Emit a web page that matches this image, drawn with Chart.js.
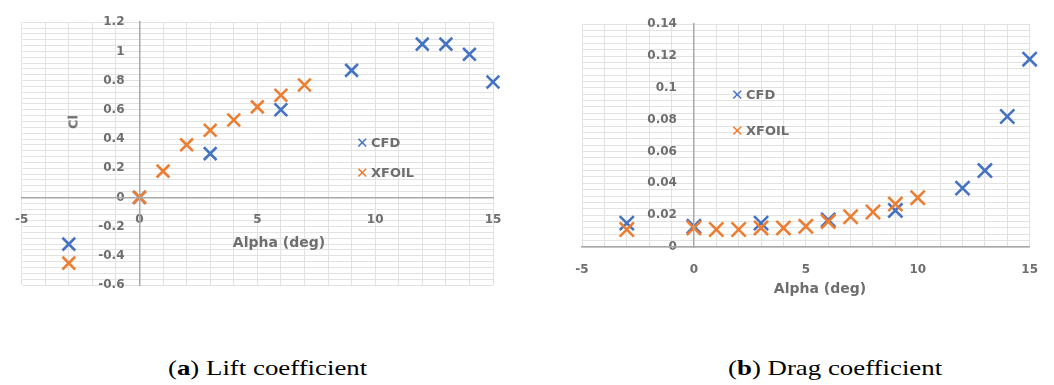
<!DOCTYPE html>
<html><head><meta charset="utf-8">
<script src="https://cdn.jsdelivr.net/npm/chart.js@4.4.1/dist/chart.umd.min.js"></script>
<style>
html,body{margin:0;padding:0;background:#fff;width:1054px;height:385px;overflow:hidden;position:relative;}
.pane{position:absolute;top:0;width:527px;height:320px;}
canvas{display:block;}
.t{position:absolute;font-family:"DejaVu Sans",sans-serif;font-weight:bold;color:#6e6e6e;white-space:nowrap;line-height:1;}
.c{transform:translate(-50%,-50%);}
.leg{position:absolute;font-family:"DejaVu Sans",sans-serif;font-weight:bold;font-size:13px;color:#6e6e6e;white-space:nowrap;line-height:1;transform:translateY(-50%);}
.leg b{display:inline-block;width:13px;margin-right:2px;font-size:15px;vertical-align:-1px;}
.cap{position:absolute;font-family:"Liberation Serif","Times New Roman",serif;font-size:22px;color:#000;white-space:nowrap;transform-origin:0 0;transform:scaleX(1.22);line-height:1;}
</style></head><body>
<div class="pane" style="left:0"><canvas id="lift" width="527" height="320"></canvas></div>
<div class="pane" style="left:527px"><canvas id="drag" width="527" height="320"></canvas></div>

<div class="t c" style="left:73px;top:122px;font-size:13px;transform:translate(-50%,-50%) rotate(-90deg);">Cl</div>
<div class="t c" style="left:279px;top:242px;font-size:14px;">Alpha (deg)</div>
<div class="t c" style="left:820px;top:288px;font-size:14px;">Alpha (deg)</div>

<div class="leg" style="left:356px;top:143px;"><b style="color:#4472C4">✕</b>CFD</div>
<div class="leg" style="left:356px;top:173px;"><b style="color:#ED7D31">✕</b>XFOIL</div>
<div class="leg" style="left:731px;top:95px;"><b style="color:#4472C4">✕</b>CFD</div>
<div class="leg" style="left:731px;top:131px;"><b style="color:#ED7D31">✕</b>XFOIL</div>

<div class="cap" style="left:168px;top:357px;">(<b>a</b>) Lift coefficient</div>
<div class="cap" style="left:728px;top:357px;">(<b>b</b>) Drag coefficient</div>

<script>
// ---- data ----
const seriesNames = ['CFD', 'XFOIL'];

// (a) lift coefficient
const alphaCfdCl   = [-3, 0, 3, 6, 9, 12, 13, 14, 15];
const clCfd        = [-0.32, 0.00, 0.30, 0.60, 0.87, 1.05, 1.05, 0.98, 0.79];
const alphaXfoilCl = [-3, 0, 1, 2, 3, 4, 5, 6, 7];
const clXfoil      = [-0.45, 0.00, 0.18, 0.36, 0.46, 0.53, 0.62, 0.70, 0.77];

// (b) drag coefficient
const alphaCfdCd   = [-3, 0, 3, 6, 9, 12, 13, 14, 15];
const cdCfd        = [0.015, 0.013, 0.015, 0.017, 0.023, 0.037, 0.048, 0.082, 0.118];
const alphaXfoilCd = [-3, 0, 1, 2, 3, 4, 5, 6, 7, 8, 9, 10];
const cdXfoil      = [0.011, 0.012, 0.011, 0.011, 0.012, 0.012, 0.013, 0.016, 0.019, 0.022, 0.027, 0.031];

// tick labels
const alphaTickLabels = ['-5', '0', '5', '10', '15'];
const clTickLabels = ['-0.6', '-0.4', '-0.2', '0', '0.2', '0.4', '0.6', '0.8', '1', '1.2'];
const cdTickLabels = ['0', '0.02', '0.04', '0.06', '0.08', '0.1', '0.12', '0.14'];

// ---- helpers ----
const BLUE = '#4472C4', ORANGE = '#ED7D31';
const pts = (xs, ys) => xs.map((x, i) => ({x: x, y: ys[i]}));
const labelFor = (labels) => (v) => {
  const hit = labels.find(l => Math.abs(parseFloat(l) - v) < 1e-9);
  return hit === undefined ? '' : hit;
};
const tickFont = {family: '"DejaVu Sans", sans-serif', size: 12, weight: 'bold'};

function ds(label, data, color, r, order) {
  return {label, data, order, pointStyle: 'crossRot', pointRadius: r, pointHoverRadius: r,
    pointBorderWidth: 2.6, borderColor: color, backgroundColor: color, showLine: false, clip: false};
}

// place the value axis so that it crosses the category axis at alpha = 0
const crossAtZero = {
  id: 'crossAtZero',
  afterLayout(chart) {
    const y = chart.scales.y;
    const px = chart.scales.x.getPixelForValue(0);
    y.right = px;
    y.left = px - 60;
  }
};

function makeChart(id, datasets, cfg) {
  return new Chart(document.getElementById(id), {
    type: 'scatter',
    data: {datasets},
    plugins: [crossAtZero],
    options: {
      responsive: false, animation: false, events: [],
      layout: {padding: cfg.pad},
      plugins: {legend: {display: false}, tooltip: {enabled: false}},
      scales: {
        x: {type: 'linear', min: -5, max: 15, position: {y: 0},
          afterFit: s => { s.height = 0; },
          grid: {color: '#e2e2e2', lineWidth: 1, drawTicks: false},
          border: {color: '#a8a8a8', width: 1.5, z: 1},
          ticks: {stepSize: 1, autoSkip: false, maxRotation: 0, maxTicksLimit: 200, padding: cfg.xPad,
            color: '#6e6e6e', font: tickFont, callback: labelFor(alphaTickLabels)}},
        y: {type: 'linear', min: cfg.yMin, max: cfg.yMax, position: 'left',
          afterFit: s => { s.width = 0; },
          grid: {color: '#e2e2e2', lineWidth: 1, drawTicks: false},
          border: {color: '#a8a8a8', width: 1.5, z: 1},
          ticks: {stepSize: cfg.yStep, autoSkip: false, maxTicksLimit: 200, padding: cfg.yPad,
            color: '#6e6e6e', font: tickFont, callback: labelFor(cfg.yLabels)}}
      }
    }
  });
}

makeChart('lift', [
  ds(seriesNames[0], pts(alphaCfdCl, clCfd), BLUE, 9, 1),
  ds(seriesNames[1], pts(alphaXfoilCl, clXfoil), ORANGE, 9, 0)
], {pad: {left: 20, right: 34, top: 20, bottom: 35}, yMin: -0.6, yMax: 1.2, yStep: 0.04,
    yLabels: clTickLabels, xPad: 15, yPad: 15});

makeChart('drag', [
  ds(seriesNames[0], pts(alphaCfdCd, cdCfd), BLUE, 10, 1),
  ds(seriesNames[1], pts(alphaXfoilCd, cdXfoil), ORANGE, 10, 0)
], {pad: {left: 55, right: 23, top: 11, bottom: 73}, yMin: 0, yMax: 0.14, yStep: 0.004,
    yLabels: cdTickLabels, xPad: 16, yPad: 17});
</script>
</body></html>
